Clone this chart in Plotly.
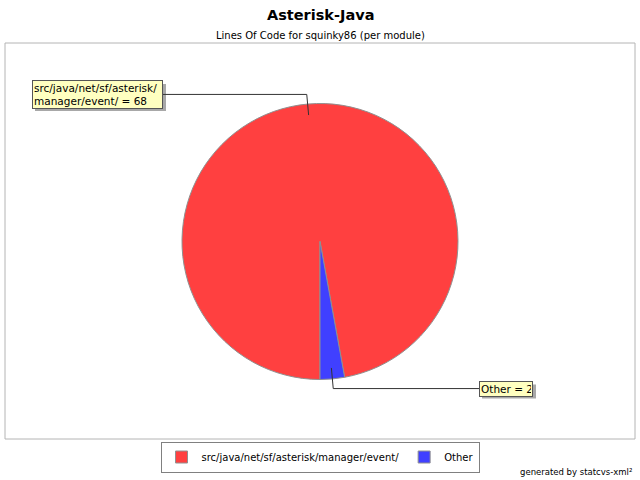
import math
import plotly.graph_objects as go

title = "Asterisk-Java"
subtitle = "Lines Of Code for squinky86 (per module)"
modules = ["src/java/net/sf/asterisk/manager/event/", "Other"]
loc = [68, 2]
slice_colors = ["#ff4040", "#4040ff"]
footer = "generated by statcvs-xml²"

W, H = 640, 480
FONT = "DejaVu Sans"

# pie geometry in pixels
cx, cy, r = 320, 241.5, 138


def px(x):
    return x / W


def py(y):
    return 1 - y / H


def wrap(s, width=26):
    # break long paths after a slash
    if len(s) <= width:
        return s
    cut = s.rfind("/", 0, width) + 1
    return s[:cut] + "<br>" + s[cut:]


fig = go.Figure()

fig.add_trace(go.Pie(
    labels=modules,
    values=loc,
    sort=False,
    direction="clockwise",
    rotation=180,
    textinfo="none",
    hoverinfo="label+value",
    marker=dict(colors=slice_colors, line=dict(color="#909090", width=1)),
    domain=dict(x=[px(cx - r), px(cx + r)], y=[py(cy + r), py(cy - r)]),
))

shapes = [dict(type="rect", xref="paper", yref="paper",
               x0=px(5), x1=px(635), y0=py(439), y1=py(43),
               line=dict(color="#b4b4b4", width=1), layer="below")]
annotations = []

total = sum(loc)
cum = 0
for name, v in zip(modules, loc):
    theta = math.radians(180 + 360 * (cum + v / 2) / total)
    cum += v
    x_in, y_in = cx + 0.92 * r * math.sin(theta), cy - 0.92 * r * math.cos(theta)
    x_el, y_el = cx + 1.07 * r * math.sin(theta), cy - 1.07 * r * math.cos(theta)
    text = wrap(name) + " = " + str(v)
    left = x_el < cx
    if left:
        bx1 = 163
        bw, bh = 131, 27
        bx0 = bx1 - bw
        x_end = bx1
    else:
        bx0 = 479
        bw, bh = 54, 14
        bx1 = bx0 + bw
        x_end = bx0
    by0, by1 = y_el - bh / 2, y_el + bh / 2
    # shadow
    shapes.append(dict(type="rect", xref="paper", yref="paper",
                       x0=px(bx0 + 3), x1=px(bx1 + 3), y0=py(by1 + 3), y1=py(by0 + 3),
                       fillcolor="#a8a8a8", line=dict(width=0)))
    # leader line
    shapes.append(dict(type="path", xref="paper", yref="paper",
                       path=f"M {px(x_in)},{py(y_in)} L {px(x_el)},{py(y_el)} L {px(x_end)},{py(y_el)}",
                       line=dict(color="#333333", width=1)))
    annotations.append(dict(
        x=px(bx0), y=py(y_el), xref="paper", yref="paper",
        xanchor="left", yanchor="middle", showarrow=False, align="left",
        text=text, width=bw - 4, height=bh - 2, borderpad=1,
        bgcolor="#ffffc0", bordercolor="#555555", borderwidth=1,
        font=dict(family=FONT, size=10.5, color="black"),
    ))

annotations.append(dict(x=0.5, y=py(15), xref="paper", yref="paper", showarrow=False,
                        text="<b>" + title + "</b>", yanchor="middle",
                        font=dict(family=FONT, size=14.5, color="black")))
annotations.append(dict(x=0.5, y=py(36), xref="paper", yref="paper", showarrow=False,
                        text=subtitle, yanchor="middle",
                        font=dict(family=FONT, size=10, color="black")))
annotations.append(dict(x=px(634), y=py(472), xref="paper", yref="paper", showarrow=False,
                        text=footer, xanchor="right", yanchor="middle",
                        font=dict(family=FONT, size=8.5, color="black")))

fig.update_layout(
    width=W, height=H,
    margin=dict(l=0, r=0, t=0, b=0),
    paper_bgcolor="white",
    plot_bgcolor="white",
    showlegend=True,
    legend=dict(orientation="h", x=0.5, xanchor="center", y=py(457), yanchor="middle",
                bordercolor="#808080", borderwidth=1,
                font=dict(family=FONT, size=10, color="black"),
                itemwidth=30, tracegroupgap=0),
    shapes=shapes,
    annotations=annotations,
)

# the page body has a default 8px margin; drop it so the chart sits at 0,0
fig.write_html("out.html", config={"displayModeBar": False},
               post_script="document.body.style.margin='0px';")
